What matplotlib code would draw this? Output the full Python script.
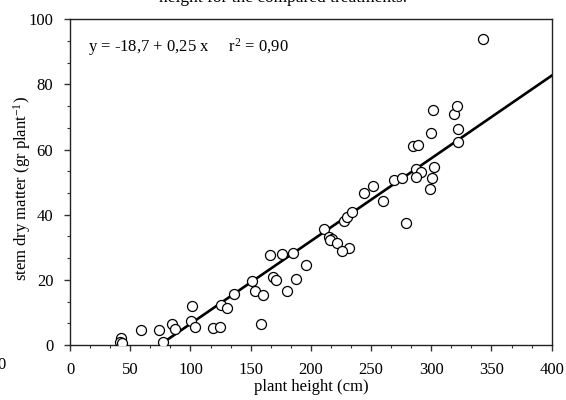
import matplotlib
matplotlib.use("Agg")
import matplotlib.pyplot as plt
from matplotlib.ticker import MultipleLocator
import numpy as np

plt.rcParams['font.family'] = ['Liberation Serif', 'DejaVu Serif']
plt.rcParams['mathtext.fontset'] = 'custom'
plt.rcParams['mathtext.rm'] = 'Liberation Serif'
plt.rcParams['mathtext.it'] = 'Liberation Serif:italic'

# data
plant_height = [42.4, 41.6, 43.2, 59.3, 73.7, 77.3, 84.6, 87.3, 100.9, 100.6,
                104.2, 118.9, 124.2, 125.6, 130.3, 136.4, 151.1, 153.6, 160.5, 158.3,
                165.8, 168.8, 171.3, 176.0, 184.9, 180.2, 188.0, 195.7, 210.7, 215.4,
                217.6, 216.2, 221.8, 231.4, 226.2, 227.9, 230.1, 234.2, 243.9, 251.7,
                260.0, 268.9, 276.1, 279.4, 285.0, 289.1, 287.5, 291.6, 287.7, 299.4,
                298.8, 300.8, 302.0, 301.3, 318.8, 321.0, 322.4, 321.8, 343.2]
stem_dry_matter = [2.2, 0.8, 0.6, 4.6, 4.6, 0.9, 6.3, 4.8, 11.9, 7.4,
                   5.6, 5.1, 5.5, 12.4, 11.3, 15.6, 19.8, 16.7, 15.3, 6.4,
                   27.5, 21.0, 20.0, 27.8, 28.2, 16.7, 20.4, 24.7, 35.5, 33.2,
                   32.4, 32.2, 31.2, 29.9, 28.8, 38.0, 39.2, 40.7, 46.7, 48.8,
                   44.1, 50.8, 51.3, 37.6, 61.0, 61.3, 54.0, 53.1, 51.6, 65.1,
                   47.9, 51.2, 54.8, 72.1, 70.9, 73.3, 66.2, 62.2, 93.8]
line_intercept = -18.9
line_slope = 0.254
line_x_range = [78, 400]
x_ticks = [0, 50, 100, 150, 200, 250, 300, 350, 400]
y_ticks = [0, 20, 40, 60, 80, 100]

fig = plt.figure(figsize=(5.66, 4.0), dpi=100)
ax = fig.add_axes([0.1237, 0.1375, 0.851, 0.8143])

ax.scatter(plant_height, stem_dry_matter, s=52, facecolors='white',
           edgecolors='black', linewidths=0.9, zorder=3)
lx = np.array(line_x_range, dtype=float)
ax.plot(lx, line_intercept + line_slope * lx, color='black', lw=1.9, zorder=2)

ax.set_xlim(0, 400)
ax.set_ylim(0, 100)
ax.set_xticks(x_ticks)
ax.set_yticks(y_ticks)
ax.xaxis.set_minor_locator(MultipleLocator(50 / 3))
ax.yaxis.set_minor_locator(MultipleLocator(20 / 3))
ax.tick_params(which='major', direction='out', length=4, width=1, labelsize=12,
               color='#333333', pad=8)
ax.tick_params(which='minor', direction='out', length=2.5, width=0.8, color='#333333')
for sp in ax.spines.values():
    sp.set_color('#222222')
    sp.set_linewidth(1.0)

ax.set_xlabel('plant height (cm)', fontsize=12, labelpad=1)
fig.text(22 / 566, 1 - 188 / 400, r'stem dry matter (gr plant$^{-1}$)',
         fontsize=12, rotation=90, ha='center', va='center')

ax.text(15, 91.4, r'y = -18,7 + 0,25 x     r$^2$ = 0,90', fontsize=12,
        ha='left', va='center')

fig.text(283 / 566, 1.0 + 2 / 400, 'height for the compared treatments.',
         fontsize=12.5, ha='center', va='center')
fig.text(1 / 566, 1 - 365 / 400, '0', fontsize=12, ha='center', va='center')

fig.savefig('out.png', dpi=100)
